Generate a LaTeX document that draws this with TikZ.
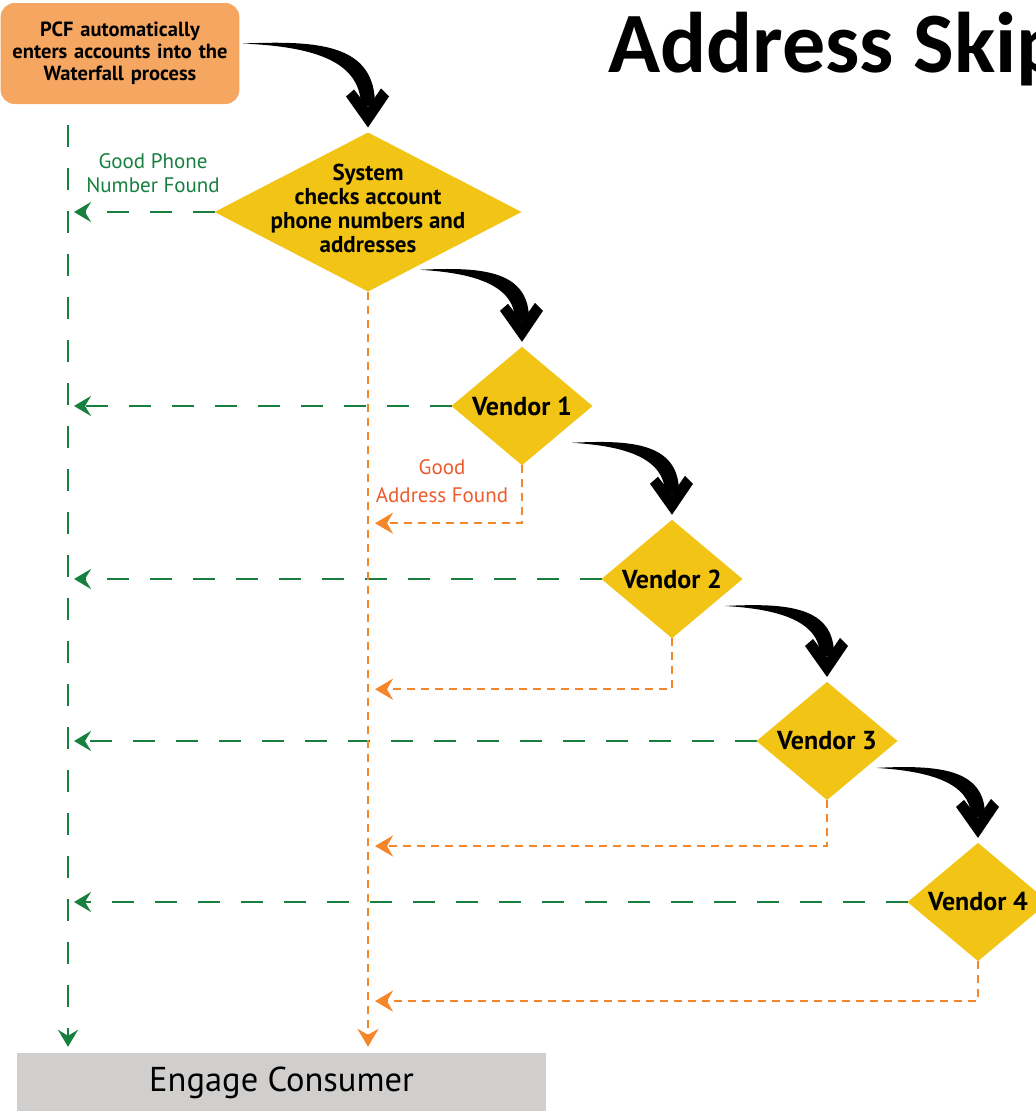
\documentclass[tikz,border=0pt]{standalone}
\usepackage{fontspec}
\setmainfont{PT Sans}
\newfontfamily\titlefont{Carlito}
\usetikzlibrary{shapes.geometric, arrows.meta, calc}

\definecolor{pcforange}{HTML}{F5A661}
\definecolor{diamondyellow}{HTML}{F1C416}
\definecolor{phonegreen}{HTML}{17803F}
\definecolor{addrorange}{HTML}{F5862A}
\definecolor{addrtext}{HTML}{EE5A2C}
\definecolor{engagegray}{HTML}{D0CFCE}

\begin{document}
\begin{tikzpicture}[x=1pt, y=-1pt]
        \tikzstyle{startbox} = [rectangle, rounded corners=14pt, fill=pcforange, minimum width=234pt, minimum height=101pt, text width=232pt, align=center, font=\fontsize{20.5}{22}\selectfont\bfseries]
        \tikzstyle{checkbox} = [diamond, fill=diamondyellow, inner sep=0pt, outer sep=0pt, minimum width=307pt, minimum height=159pt]
        \tikzstyle{vendorbox} = [diamond, fill=diamondyellow, inner sep=0pt, outer sep=0pt, minimum width=141pt, minimum height=114pt, font=\fontsize{26}{28}\selectfont\bfseries]
        \tikzstyle{endbox} = [rectangle, fill=engagegray, minimum width=529pt, minimum height=60pt, font=\fontsize{34.5}{36}\selectfont]
        \tikzstyle{phone} = [phonegreen, line width=2.5pt, dash pattern=on 22pt off 21pt, -{Stealth[length=17pt, width=20pt, inset=6pt]}]
        \tikzstyle{address} = [addrorange, line width=2.5pt, dash pattern=on 8pt off 6pt, -{Stealth[length=18pt, width=21pt, inset=6pt]}]
        \tikzstyle{outcome} = [align=center, font=\fontsize{21}{24}\selectfont]

        \useasboundingbox (0,0) rectangle (1036,1111);

        \node (pcf) [startbox] at (120,53.5) {PCF automatically\\enters accounts into the\\Waterfall process};
        \node (sys) [checkbox] at (368,212) {};
        \node (systext) [align=center, font=\fontsize{23}{24}\selectfont\bfseries] at (368,208) {System\\checks account\\phone numbers and\\addresses};
        \node (v1) [vendorbox] at (522,406) {Vendor 1};
        \node (v2) [vendorbox] at (672,579) {Vendor 2};
        \node (v3) [vendorbox] at (827,741) {Vendor 3};
        \node (v4) [vendorbox] at (978,902) {Vendor 4};
        \node (eng) [endbox] at (281.5,1083) {Engage Consumer};
        \node (title) [anchor=base west, inner sep=0pt, font=\titlefont\bfseries\fontsize{86}{86}\selectfont] at (608,72) {Address Skip};

        \node (phonelabel) [outcome, text=phonegreen] at (153,173) {Good Phone\\Number Found};
        \node (addrlabel) [outcome, text=addrtext, font=\fontsize{21}{28}\selectfont] at (442,481) {Good\\Address Found};

        \coordinate (gtop) at (68,125);
        \draw[phone] (gtop) -- ($(gtop |- eng.north)+(0,-6)$);
        \foreach \n in {sys, v1, v2, v3, v4}
            \draw[phone] (\n.west) -- ($(gtop |- \n.west)+(6,0)$);

        \draw[address] (sys.south) -- ($(sys.south |- eng.north)+(0,-6)$);
        \foreach \n/\drop in {v1/58, v2/51, v3/46, v4/40}
            \draw[address] (\n.south) |- ($(sys.south |- \n.south)+(7,\drop)$);

        \foreach \a/\b/\dx/\dy in {pcf/sys/125/84, sys/v1/102/72, v1/v2/100/72, v2/v3/102/71, v3/v4/102/70} {
            \coordinate (\b-tip) at ($(\b.north)+(0,-5)$);
            \coordinate (\a-out) at ($(\b-tip)+(-\dx,-\dy)$);
            \fill (\a-out) .. controls ($(\a-out)+({0.6*\dx},-3)$) and ($(\b-tip)+(8,-\dy)$) .. ($(\b-tip)+(7,-21)$)
                -- ($(\b-tip)+(-7,-21)$) .. controls ($(\b-tip)+(-7,{-\dy+14})$) and ($(\a-out)+({0.5*\dx},3)$) .. cycle;
            \fill (\b-tip) -- ($(\b-tip)+(21,-31)$) -- ($(\b-tip)+(13,-39)$) -- ($(\b-tip)+(0,-20)$)
                -- ($(\b-tip)+(-14,-38)$) -- ($(\b-tip)+(-22,-31)$) -- cycle;
        }
\end{tikzpicture}
\end{document}
